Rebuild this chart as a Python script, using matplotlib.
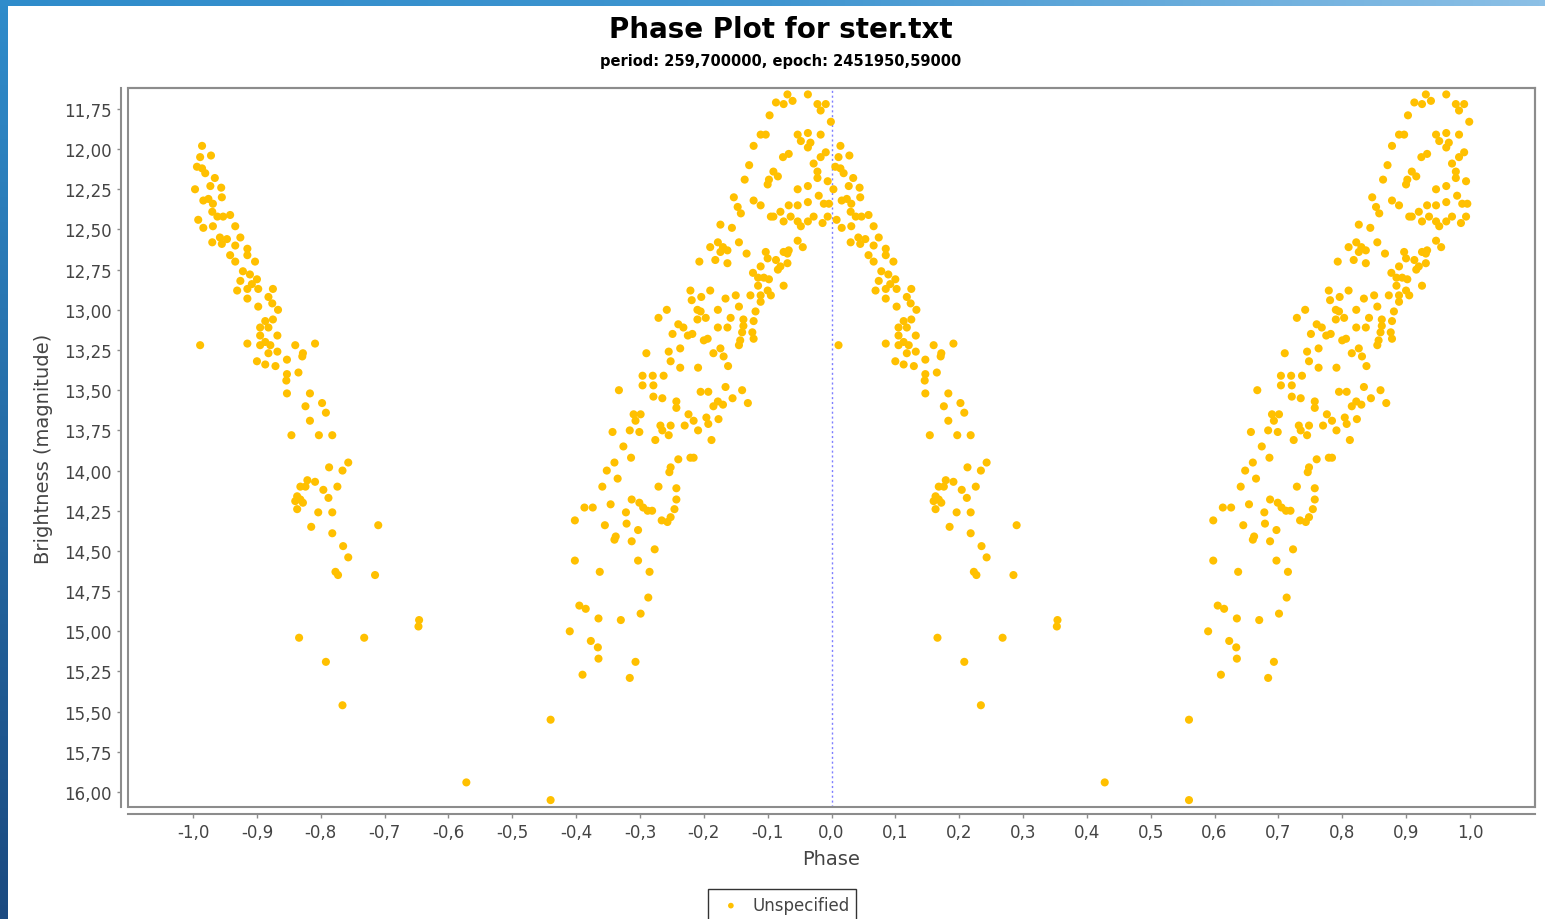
import numpy as np
import matplotlib.pyplot as plt
from matplotlib.patches import Rectangle

phase = [
    0.014, 0.028, 0.011, 0.006, 0.014, 0.019, 0.034, 0.027, 0.044, 0.003,
    0.045, 0.016, 0.024, 0.031, 0.030, 0.038, 0.047, 0.058, 0.008, 0.066,
    0.016, 0.031, 0.042, 0.053, 0.074, 0.030, 0.045, 0.066, 0.085, 0.058,
    0.085, 0.066, 0.097, 0.078, 0.089, 0.100, 0.074, 0.092, 0.069, 0.085,
    0.102, 0.125, 0.085, 0.118, 0.102, 0.124, 0.133, 0.113, 0.125, 0.105,
    0.118, 0.132, 0.105, 0.113, 0.121, 0.105, 0.011, 0.085, 0.160, 0.191,
    0.118, 0.132, 0.172, 0.171, 0.147, 0.100, 0.113, 0.129, 0.147, 0.165,
    0.146, 0.147, 0.183, 0.202, 0.176, 0.208, 0.183, 0.154, 0.197, 0.218,
    0.213, 0.234, 0.243, 0.179, 0.191, 0.168, 0.176, 0.226, 0.204, 0.212,
    0.163, 0.168, 0.160, 0.172, 0.163, 0.196, 0.218, 0.185, 0.290, 0.218,
    0.235, 0.243, 0.223, 0.227, 0.285, 0.354, 0.353, 0.166, 0.268, 0.208,
    0.234, 0.428,
    0.931, 0.963, 0.939, 0.925, 0.913, 0.978, 0.991, 0.983, 0.903, 0.999,
    0.889, 0.897, 0.947, 0.963, 0.983, 0.952, 0.967, 0.963, 0.878, 0.924,
    0.933, 0.991, 0.983, 0.972, 0.871, 0.909, 0.916, 0.978, 0.978, 0.994,
    0.864, 0.900, 0.902, 0.947, 0.963, 0.980, 0.988, 0.996, 0.847, 0.853,
    0.858, 0.878, 0.889, 0.963, 0.947, 0.933, 0.920, 0.909, 0.905, 0.936,
    0.925, 0.947, 0.963, 0.952, 0.972, 0.994, 0.986, 0.826, 0.844, 0.947,
    0.955, 0.933, 0.925, 0.931, 0.855, 0.867, 0.822, 0.810, 0.830, 0.837,
    0.826, 0.818, 0.837, 0.793, 0.897, 0.900, 0.889, 0.913, 0.920, 0.931,
    0.916, 0.877, 0.885, 0.894, 0.902, 0.925, 0.779, 0.810, 0.796, 0.781,
    0.885, 0.900, 0.905, 0.889, 0.873, 0.834, 0.850, 0.855, 0.822, 0.790,
    0.795, 0.742, 0.729, 0.889, 0.881, 0.790, 0.803, 0.842, 0.760, 0.768,
    0.862, 0.878, 0.862, 0.822, 0.837, 0.751, 0.775, 0.782, 0.806, 0.800,
    0.860, 0.876, 0.857, 0.878, 0.855, 0.763, 0.745, 0.710, 0.815, 0.826,
    0.831, 0.748, 0.763, 0.791, 0.838, 0.704, 0.720, 0.737, 0.704, 0.721,
    0.667, 0.795, 0.807, 0.834, 0.860, 0.721, 0.735, 0.757, 0.757, 0.845,
    0.869, 0.822, 0.815, 0.830, 0.690, 0.701, 0.693, 0.776, 0.784, 0.770,
    0.804, 0.807, 0.823, 0.657, 0.684, 0.699, 0.732, 0.748, 0.735, 0.745,
    0.724, 0.791, 0.812, 0.674, 0.686, 0.760, 0.779, 0.784, 0.660, 0.648,
    0.748, 0.746, 0.665, 0.641, 0.729, 0.757, 0.613, 0.626, 0.654, 0.687,
    0.699, 0.705, 0.712, 0.719, 0.678, 0.757, 0.754, 0.598, 0.734, 0.748,
    0.743, 0.645, 0.679, 0.697, 0.662, 0.660, 0.687, 0.723, 0.598, 0.637,
    0.697, 0.715, 0.713, 0.701, 0.605, 0.615, 0.635, 0.670, 0.590, 0.623,
    0.634, 0.635, 0.693, 0.610, 0.684, 0.560, 0.560,
]
mag = [
    11.98, 12.04, 12.05, 12.11, 12.12, 12.15, 12.18, 12.23, 12.24, 12.25,
    12.30, 12.32, 12.31, 12.34, 12.39, 12.42, 12.42, 12.41, 12.44, 12.48,
    12.49, 12.48, 12.55, 12.56, 12.55, 12.58, 12.59, 12.60, 12.62, 12.66,
    12.66, 12.70, 12.70, 12.76, 12.78, 12.81, 12.82, 12.84, 12.88, 12.87,
    12.87, 12.87, 12.93, 12.92, 12.98, 12.96, 13.00, 13.07, 13.06, 13.11,
    13.11, 13.16, 13.16, 13.20, 13.22, 13.22, 13.22, 13.21, 13.22, 13.21,
    13.27, 13.26, 13.27, 13.29, 13.31, 13.32, 13.34, 13.35, 13.40, 13.39,
    13.44, 13.52, 13.52, 13.58, 13.60, 13.64, 13.69, 13.78, 13.78, 13.78,
    13.98, 14.00, 13.95, 14.06, 14.07, 14.10, 14.10, 14.10, 14.12, 14.17,
    14.16, 14.18, 14.19, 14.20, 14.24, 14.26, 14.26, 14.35, 14.34, 14.39,
    14.47, 14.54, 14.63, 14.65, 14.65, 14.93, 14.97, 15.04, 15.04, 15.19,
    15.46, 15.94,
    11.66, 11.66, 11.70, 11.72, 11.71, 11.72, 11.72, 11.76, 11.79, 11.83,
    11.91, 11.91, 11.91, 11.90, 11.91, 11.95, 11.96, 11.99, 11.98, 12.05,
    12.03, 12.02, 12.05, 12.09, 12.10, 12.14, 12.17, 12.14, 12.18, 12.20,
    12.19, 12.22, 12.19, 12.25, 12.23, 12.29, 12.34, 12.34, 12.30, 12.36,
    12.40, 12.32, 12.35, 12.33, 12.35, 12.35, 12.39, 12.42, 12.42, 12.42,
    12.45, 12.45, 12.45, 12.48, 12.42, 12.42, 12.46, 12.47, 12.49, 12.57,
    12.61, 12.63, 12.64, 12.65, 12.58, 12.65, 12.58, 12.61, 12.61, 12.63,
    12.64, 12.69, 12.71, 12.70, 12.64, 12.68, 12.73, 12.69, 12.73, 12.71,
    12.75, 12.77, 12.80, 12.80, 12.81, 12.85, 12.88, 12.88, 12.92, 12.94,
    12.85, 12.88, 12.91, 12.91, 12.91, 12.93, 12.91, 12.98, 13.00, 13.00,
    13.01, 13.00, 13.05, 12.95, 13.01, 13.06, 13.05, 13.05, 13.09, 13.11,
    13.06, 13.07, 13.10, 13.11, 13.11, 13.15, 13.16, 13.15, 13.18, 13.19,
    13.14, 13.14, 13.19, 13.18, 13.22, 13.24, 13.26, 13.27, 13.27, 13.24,
    13.29, 13.32, 13.36, 13.36, 13.35, 13.41, 13.41, 13.41, 13.47, 13.47,
    13.50, 13.51, 13.51, 13.48, 13.50, 13.54, 13.55, 13.57, 13.61, 13.55,
    13.58, 13.57, 13.60, 13.59, 13.65, 13.65, 13.69, 13.65, 13.69, 13.72,
    13.67, 13.71, 13.68, 13.76, 13.75, 13.76, 13.72, 13.72, 13.75, 13.78,
    13.81, 13.75, 13.81, 13.85, 13.92, 13.93, 13.92, 13.92, 13.95, 14.00,
    13.98, 14.01, 14.05, 14.10, 14.10, 14.11, 14.23, 14.23, 14.21, 14.18,
    14.20, 14.23, 14.25, 14.25, 14.26, 14.18, 14.24, 14.31, 14.31, 14.29,
    14.32, 14.34, 14.33, 14.37, 14.41, 14.43, 14.44, 14.49, 14.56, 14.63,
    14.56, 14.63, 14.79, 14.89, 14.84, 14.86, 14.92, 14.93, 15.00, 15.06,
    15.10, 15.17, 15.19, 15.27, 15.29, 15.55, 16.05,
]

xticks = np.round(np.arange(-1.0, 1.01, 0.1), 1)
yticks = np.arange(11.75, 16.01, 0.25)

phase = np.array(phase)
mag = np.array(mag)
x = np.concatenate([phase - 1, phase])
y = np.concatenate([mag, mag])

fig = plt.figure(figsize=(15.45, 9.2), dpi=100)
fig.patch.set_facecolor('white')

# blue window frame, left and top
grad = np.linspace(0, 1, 256).reshape(-1, 1)
fl = fig.add_axes([0, 0, 8 / 1545, 1])
fl.imshow(grad, aspect='auto', cmap=plt.matplotlib.colors.LinearSegmentedColormap.from_list('b', ['#2f8ccb', '#1b4a80']))
fl.axis('off')
ft = fig.add_axes([0, 1 - 7 / 920, 1, 7 / 920])
ft.imshow(np.linspace(0, 1, 256).reshape(1, -1), aspect='auto',
          cmap=plt.matplotlib.colors.LinearSegmentedColormap.from_list('t', ['#2f8ccb', '#3f95d0', '#8cc0e6']))
ft.axis('off')

ax = fig.add_axes([128 / 1545, 1 - 808 / 920, (1535 - 128) / 1545, (808 - 89) / 920])
ax.scatter(x, y, s=34, color='#ffc000', edgecolors='none', zorder=3, label='Unspecified')
ax.axvline(0, color='#7f7fff', lw=1, ls=(0, (1.5, 2)), zorder=2)

ax.set_xlim(-1.102, 1.102)
ax.set_ylim(16.093, 11.62)
ax.set_xticks(xticks)
ax.set_xticklabels([f"{abs(v):.1f}".replace('.', ',') if v == 0 else f"{v:.1f}".replace('.', ',') for v in xticks])
ax.set_yticks(yticks)
ax.set_yticklabels([f"{v:.2f}".replace('.', ',') for v in yticks])

for s in ['top', 'right']:
    ax.spines[s].set_color('#8c8c8c')
    ax.spines[s].set_linewidth(1.5)
for s in ['left', 'bottom']:
    ax.spines[s].set_position(('outward', 5))
    ax.spines[s].set_color('#8c8c8c')
    ax.spines[s].set_linewidth(1.5)
ax.add_patch(Rectangle((0, 0), 1, 1, transform=ax.transAxes, fill=False,
                       edgecolor='#8c8c8c', lw=1.5, clip_on=False, zorder=5))
ax.tick_params(colors='#8c8c8c', labelcolor='#444444', labelsize=12, length=3, width=1)

ax.set_xlabel('Phase', fontsize=14, color='#444444', labelpad=6)
ax.set_ylabel('Brightness (magnitude)', fontsize=14, color='#444444', labelpad=8)

fig.text(781 / 1545, 1 - 30 / 920, 'Phase Plot for ster.txt', ha='center', va='center',
         fontsize=20, fontweight='bold', color='black')
fig.text(781 / 1545, 1 - 62 / 920, 'period: 259,700000, epoch: 2451950,59000', ha='center', va='center',
         fontsize=10.5, fontweight='bold', color='black')

leg = ax.legend(loc='upper center', bbox_to_anchor=(782 / 1545, 1 - 882 / 920),
                bbox_transform=fig.transFigure, fancybox=False, edgecolor='#333333',
                fontsize=12, markerscale=0.7, handletextpad=0.3, borderpad=0.4, framealpha=1)
for t in leg.get_texts():
    t.set_color('#444444')

plt.savefig('out.png', dpi=100)
